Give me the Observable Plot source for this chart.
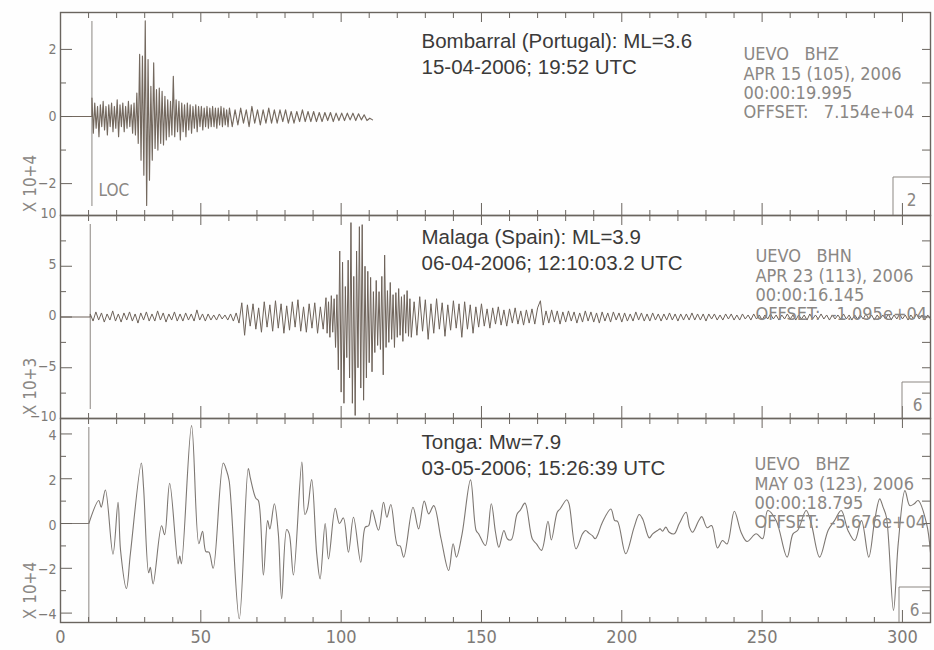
<!DOCTYPE html>
<html><head><meta charset="utf-8">
<script src="https://cdn.jsdelivr.net/npm/d3@7"></script>
<script src="https://cdn.jsdelivr.net/npm/@observablehq/plot@0.6"></script>
<style>
html,body{margin:0;padding:0;background:#fefefe;}
#chart{position:relative;width:934px;height:650px;overflow:hidden;}
#chart svg{position:absolute;left:0;}
</style></head><body><div id="chart"></div>
<script>
// ---------- shared axis data ----------
const timeDomain = [0, 310];
const xMajorTicks = [0, 50, 100, 150, 200, 250, 300];
const xMinorTicks = [10,20,30,40,60,70,80,90,110,120,130,140,160,170,180,190,210,220,230,240,260,270,280,290];

// ---------- per-panel text / scale data ----------
const titleLines = [
  ["Bombarral (Portugal): ML=3.6", "15-04-2006; 19:52 UTC"],
  ["Malaga (Spain): ML=3.9", "06-04-2006; 12:10:03.2 UTC"],
  ["Tonga: Mw=7.9", "03-05-2006; 15:26:39 UTC"]
];
const headerLines = [
  ["UEVO   BHZ", "APR 15 (105), 2006", "00:00:19.995", "OFFSET:   7.154e+04"],
  ["UEVO   BHN", "APR 23 (113), 2006", "00:00:16.145", "OFFSET:  -1.095e+04"],
  ["UEVO   BHZ", "MAY 03 (123), 2006", "00:00:18.795", "OFFSET:  -5.676e+04"]
];
const scaleLabels = ["X 10+4", "X 10+3", "X 10+4"];
const boxLabels = ["2", "6", "6"];
const onsetTimes = [11.2, 10.6, 10.1];
const yDomains = [[-2.95, 3.1], [-10, 10], [-4.42, 4.69]];
const yMajorTicks = [[-2, 0, 2], [-10, -5, 0, 5, 10], [-4, -2, 0, 2, 4]];
const yMinorTicks = [[-1, 1], [-7.5, -2.5, 2.5, 7.5], [-3, -1, 1, 3]];
const yRightTicks = [[-2, -1, 0, 1, 2], [-7.5, -5, -2.5, 0, 2.5, 5, 7.5], [-4, -3, -2, -1, 0, 1, 2, 3, 4]];

// ---------- Panel 1: Bombarral (x 10^4) ----------
const p1aStart = 11.2, p1aStep = 0.5;
const p1aValues = [0.55,-0.5,0.4,-0.35,0.3,-0.6,0.35,-0.3,0.45,-0.4,
 0.3,-0.55,0.35,-0.3,0.4,-0.45,0.3,-0.35,0.5,-0.6,
 0.35,-0.3,0.4,-0.45,0.3,-0.35,0.45,-0.3,0.35,-0.5,
 0.4,-0.55,0.7,-0.8,1.85,-1.3,1.8,-1.75,2.85,-2.65,
 1.7,-1.9,0.9,-1.3,1.6,-0.95,0.8,-1.0,0.85,-0.8,
 0.75,-0.85,0.6,-0.7,0.5,-0.6,0.45,-0.55,1.2,-0.6,
 0.5,-0.45,0.45,-0.7,0.4,-0.45,0.35,-0.6,0.4,-0.4,
 0.35,-0.5,0.3,-0.35,0.35,-0.45,0.3,-0.3,0.3,-0.4,
 0.25,-0.3,0.3,-0.35,0.25,-0.3,0.3,-0.3,0.25,-0.35,
 0.25,-0.25,0.3,-0.3,0.25,-0.25,0.2,-0.3,0.25];
const p1bStart = 61.2, p1bStep = 1;
const p1bValues = [-0.3,0.2,-0.25,0.25,-0.2,0.2,-0.3,0.3,-0.2,0.2,
 -0.25,0.2,-0.2,0.25,-0.2,0.2,-0.2,0.2,-0.15,0.2,
 -0.2,0.15,-0.2,0.15,-0.15,0.2,-0.15,0.15,-0.15,0.15,
 -0.15,0.12,-0.15,0.12,-0.12,0.12,-0.15,0.1,-0.12,0.1,
 -0.12,0.1,-0.1,0.1,-0.12,0.08,-0.1,0.05,-0.12,-0.05,-0.1];

// ---------- Panel 2: Malaga (x 10^3) ----------
const p2aStart = 10.6, p2aStep = 1;
const p2aValues = [0.3,-0.4,0.5,-0.3,0.4,-0.5,0.3,-0.3,0.6,-0.4,
 0.3,-0.5,0.4,-0.3,0.5,-0.4,0.3,-0.6,0.4,-0.3,
 0.5,-0.4,0.3,-0.4,0.6,-0.3,0.4,-0.5,0.3,-0.3,
 0.5,-0.4,0.3,-0.4,0.4,-0.3,0.3,-0.4,0.7,-0.3,
 0.3,-0.4,0.3,-0.3,0.2,-0.3,0.3,-0.2,0.2,-0.3,
 0.3,-0.4,0.4,-0.6,1.4,-1.8,1.2,-0.9,1.3,-1.2,
 0.9,-1.5,1.5,-1.0,1.2,-1.4,1.6,-1.1,1.3,-1.6,
 1.1,-1.3,1.5,-1.0,1.7,-1.4,1.0,-1.5,1.3,-1.1,
 1.4,-1.6,1.0,-1.2,1.9];
const p2bStart = 95, p2bStep = 0.5;
const p2bValues = [-1.6,1.5,-2.0,2.1,-1.5,1.8,-3.0,2.2,-5.2,6.5,
 -7.4,5.4,-8.5,3.0,-4.0,5.6,-6.0,9.3,-8.5,4.0,
 -9.7,6.5,-5.0,8.9,-7.0,9.1,-8.2,5.0,-6.0,4.5,
 -4.5,3.9,-5.4,2.5,-3.5,3.6,-2.8,2.5,-3.2,4.0,
 -5.7,6.1,-3.0,2.6,-2.5,3.4,-2.2,2.2,-3.0,2.4,
 -2.0,2.8,-1.8,2.0,-2.4,2.2,-1.6,2.6,-1.9,1.8,
 -2.0];
const p2cStart = 126, p2cStep = 1;
const p2cValues = [1.5,-1.8,2.0,-1.4,1.7,-2.2,1.3,-1.6,1.8,-1.2,
 1.4,-1.9,1.2,-1.3,1.6,-1.1,1.3,-2.0,1.5,-1.2,
 1.2,-1.6,1.0,-1.0,1.3,-0.9,0.8,-1.1,0.9,-0.7,
 1.0,-0.8,0.7,-0.9,0.8,-0.6,0.9,-0.7,0.6,-0.8,
 0.7,-0.6,0.8,-0.7,0.9,1.6,-0.8,0.6,-0.6,0.7,
 -0.5,0.6,-0.7,0.5,-0.5,0.6,-0.4,0.5,-0.6,0.4,
 -0.5,0.6,-0.4,0.5,-0.5,0.4,-0.6,0.5,-0.4,0.4,
 -0.5,0.5,-0.3,0.4,-0.5,0.4,-0.4,0.3,-0.4,0.5,
 -0.3,0.4,-0.4,0.3,-0.4,0.4,-0.3,0.3,-0.4,0.3,
 -0.3,0.4,-0.3,0.3,-0.4,0.3,-0.3,0.3,-0.3,0.4,
 -0.3,0.3,-0.3,0.3,-0.4,0.3,-0.2,0.3,-0.3,0.2,
 -0.3,0.3,-0.2,0.3,-0.3,0.2,-0.3,0.3,-0.2,0.2,
 -0.3,0.3,-0.2,0.2,-0.3,0.2,-0.2,0.3,-0.2,0.2,
 -0.3,0.2,-0.2,0.3,-0.2,0.2,-0.3,0.2,-0.2,0.2,
 -0.3,0.3,-0.2,0.2,-0.2,0.3,-0.2,0.2,-0.3,0.2,
 -0.2,0.2,-0.2,0.3,-0.2,0.2,-0.3,0.2,-0.2,0.2,
 -0.2,0.3,-0.2,0.2,-0.3,0.2,-0.2,0.2,-0.2,0.3,
 -0.3,0.2,-0.2,0.3,-0.2,0.2,-0.3,0.2,-0.2,0.3,
 -0.2,0.2,-0.3,0.2,-0.2];

// ---------- Panel 3: Tonga (x 10^4), turning points ----------
const tongaTimes = [10.1,13.6,14.5,16.0,18.7,20.5,21.4,23.5,24.9,28.8,29.6,31.4,32.0,33.0,36.0,37.1,38.9,41.9,42.5,43.1,
 46.7,49.3,50.6,51.8,52.9,54.4,58.0,59.2,60.1,63.7,66.9,67.7,69.6,70.5,72.3,73.8,74.6,76.2,77.6,78.8,
 80.6,81.5,83.0,86.0,87.1,88.0,89.5,91.3,92.5,94.3,95.5,97.9,99.4,100.8,102.6,104.4,107.0,108.6,109.8,111.0,
 113.3,115.1,116.3,117.7,120.1,121.0,122.3,125.6,127.6,129.6,131.2,133.0,135.6,138.3,139.9,141.1,143.1,146.1,148.1,149.0,
 151.4,153.5,155.0,156.2,158.0,159.2,160.6,162.7,163.9,165.5,168.1,169.6,171.4,173.7,174.9,177.0,178.0,180.4,181.2,183.7,
 186.0,187.1,188.3,189.5,190.5,191.3,193.1,196.1,197.5,198.5,201.4,204.4,206.2,207.4,209.8,211.0,212.7,213.7,214.5,215.7,
 216.9,218.7,220.5,222.9,224.1,225.2,227.3,228.5,230.4,232.0,234.1,235.9,237.5,240.1,242.5,244.6,247.9,250.2,252.0,255.0,
 258.9,261.0,262.7,265.7,267.5,270.5,273.5,275.8,278.2,280.6,283.0,285.4,288.0,290.1,291.9,293.1,294.3,296.8,298.5,300.9,
 302.6,304.2,305.6,308.6,310.0];
const tongaValues = [0,1.03,0.73,1.5,-1.37,0.95,-1.2,-2.9,-1.35,2.7,1.6,-2.2,-1.95,-2.7,-0.1,-0.5,1.8,-1.8,-1.45,-1.8,
 4.37,-0.9,-0.35,-1.25,-1.28,-2.0,2.7,2.35,1.9,-4.25,2.45,2.0,1.13,1.03,-2.3,0.13,-0.24,0.88,-0.43,-3.36,
 -0.27,-0.46,-2.3,2.74,0.4,0.65,1.96,-1.35,-2.47,0,-1.58,0.68,0,0.25,-1.28,0.28,-1.73,-0.16,-0.1,0.6,
 -0.3,0.95,0.28,0.85,-0.98,-1.0,-1.5,0.73,-0.24,1.0,0.43,0.8,-0.68,-2.1,-0.9,-1.5,-0.46,1.95,-0.31,-0.46,
 -0.98,0.88,-0.39,-1.06,-0.31,-0.68,-0.73,0.43,0.61,0.91,-0.68,-0.91,-1.2,0.1,-0.73,0.5,0.65,1.06,0.88,-1.13,
 -0.46,-0.31,-0.43,-0.54,-0.68,-0.54,0.06,0.65,0.13,0.1,-1.35,-0.16,0.4,0.21,-0.64,-0.46,-0.31,-0.24,-0.34,-0.16,
 -0.39,-0.46,0.0,0.5,-0.16,-0.39,0.1,0.31,-0.19,-0.09,-1.09,-0.76,-0.91,0.55,-0.39,-0.8,-0.46,-0.68,0.58,0.13,
 -1.5,-0.46,-0.3,0.58,0,-1.5,-0.31,0.13,0.58,-0.31,-0.76,0.13,-1.5,0.13,1.1,0.73,0.28,-3.88,-0.9,1.47,
 0.8,0.88,1.03,0,-1.3];

// ---------- build series ----------
const seg = (start, step, values) => values.map((v, i) => ({t: start + i * step, v}));
const lead = (onset) => [{t: timeDomain[0], v: 0}, {t: onset, v: 0}];
const series = [
  [...lead(onsetTimes[0]), ...seg(p1aStart, p1aStep, p1aValues), ...seg(p1bStart, p1bStep, p1bValues)],
  [...lead(onsetTimes[1]), ...seg(p2aStart, p2aStep, p2aValues), ...seg(p2bStart, p2bStep, p2bValues), ...seg(p2cStart, p2cStep, p2cValues)],
  [...lead(onsetTimes[2]), ...tongaTimes.map((t, i) => ({t, v: tongaValues[i]}))]
];

// ---------- styling / layout ----------
const ink = "#6a655f";
const traceColors = ["#74695f", "#6e635a", "#7d7772"];
const traceWidths = [1.15, 1.0, 1.1];
const greyText = "#8a8784";
const narrow = "'Liberation Sans Narrow','DejaVu Sans Condensed','Roboto Condensed','Liberation Sans',sans-serif";
const sans = "'Liberation Sans',Arial,Helvetica,sans-serif";
const layout = [
  {top: 0,   height: 215, marginTop: 12, marginBottom: 0,  titleDy: 16.6, headDx: 683, headDy: 34.3, boxW: 37, boxH: 38, boxDx: -19, boxDy: -15, labelDy: 0},
  {top: 215, height: 203, marginTop: 0,  marginBottom: 0,  titleDy: 9.6,  headDx: 695, headDy: 33.3, boxW: 28, boxH: 36, boxDx: -13, boxDy: -13, labelDy: -1.5},
  {top: 418, height: 232, marginTop: 0,  marginBottom: 28, titleDy: 11.6, headDx: 694, headDy: 38.3, boxW: 31, boxH: 35, boxDx: -16, boxDy: -12, labelDy: 1.5}
];

const chart = document.getElementById("chart");
layout.forEach((L, i) => {
  const tickOpts = {fill: "none", stroke: ink, label: null, strokeWidth: 1};
  const marks = [
    Plot.ruleX([onsetTimes[i]], {stroke: "#8c8782", strokeWidth: 1, insetTop: 9, insetBottom: i === 2 ? 0 : 9}),
    Plot.line(series[i], {x: "t", y: "v", stroke: traceColors[i], strokeWidth: traceWidths[i], curve: i === 2 ? "catmull-rom" : "linear"}),
    Plot.frame({stroke: ink, strokeWidth: 1.4}),
    Plot.axisY(yMajorTicks[i], {anchor: "left", tickSize: 12, dx: 12, ...tickOpts}),
    Plot.axisY(yMinorTicks[i], {anchor: "left", tickSize: 6, dx: 6, ...tickOpts}),
    Plot.axisY(yRightTicks[i], {anchor: "right", tickSize: 9, dx: -9, ...tickOpts}),
    Plot.axisY(yMajorTicks[i], {anchor: "left", tickSize: 0, tickPadding: 4, dy: L.labelDy, label: null, fill: "#7d7a77", fontSize: 14, fontFamily: narrow}),
    Plot.axisX(xMajorTicks, {anchor: "top", tickSize: 9, dy: 9, ...tickOpts}),
    Plot.axisX(xMinorTicks, {anchor: "top", tickSize: 5, dy: 5, ...tickOpts}),
    Plot.axisX(xMajorTicks, {anchor: "bottom", tickSize: 12, dy: -12, ...tickOpts}),
    Plot.axisX(xMinorTicks, {anchor: "bottom", tickSize: 5, dy: -5, ...tickOpts}),
    Plot.text([titleLines[i].join("\n")], {text: d => d, frameAnchor: "top-left", dx: 361, dy: L.titleDy, textAnchor: "start", lineAnchor: "top", lineHeight: 1.27, fontSize: 20.5, fontFamily: sans, fill: "#3b3a39"}),
    Plot.text([headerLines[i].join("\n")], {text: d => d, frameAnchor: "top-left", dx: L.headDx, dy: L.headDy, textAnchor: "start", lineAnchor: "top", lineHeight: 1.07, fontSize: 18, fontFamily: narrow, fill: greyText}),
    Plot.text([scaleLabels[i]], {text: d => d, frameAnchor: "bottom-left", dx: -30, dy: -32, rotate: -90, textAnchor: "middle", lineAnchor: "middle", fontSize: 17, fontFamily: narrow, fill: greyText}),
    Plot.text([boxLabels[i]], {text: d => d, frameAnchor: "bottom-right", dx: L.boxDx, dy: L.boxDy, textAnchor: "middle", lineAnchor: "middle", fontSize: 17, fontFamily: narrow, fill: greyText})
  ];
  if (i === 0) {
    marks.push(Plot.text(["LOC"], {text: d => d, frameAnchor: "bottom-left", dx: 38, dy: -25, textAnchor: "start", lineAnchor: "middle", fontSize: 17, fontFamily: narrow, fill: greyText}));
  }
  if (i === 2) {
    marks.push(Plot.axisX(xMajorTicks, {anchor: "bottom", tickSize: 0, tickPadding: 8, label: null, fill: "#7d7a77", fontSize: 18, fontFamily: narrow}));
  }
  const svg = Plot.plot({
    width: 934, height: L.height,
    marginTop: L.marginTop, marginBottom: L.marginBottom, marginLeft: 60, marginRight: 4,
    x: {domain: timeDomain},
    y: {domain: yDomains[i]},
    style: {background: "transparent", overflow: "visible", color: ink},
    marks
  });
  svg.style.top = L.top + "px";
  // small label box in the lower-right corner
  const right = 930, bottom = L.height - L.marginBottom;
  d3.select(svg).append("path")
    .attr("d", `M${right - L.boxW},${bottom}V${bottom - L.boxH}H${right}`)
    .attr("fill", "none").attr("stroke", "#8c8782").attr("stroke-width", 1);
  chart.appendChild(svg);
});
</script></body></html>
